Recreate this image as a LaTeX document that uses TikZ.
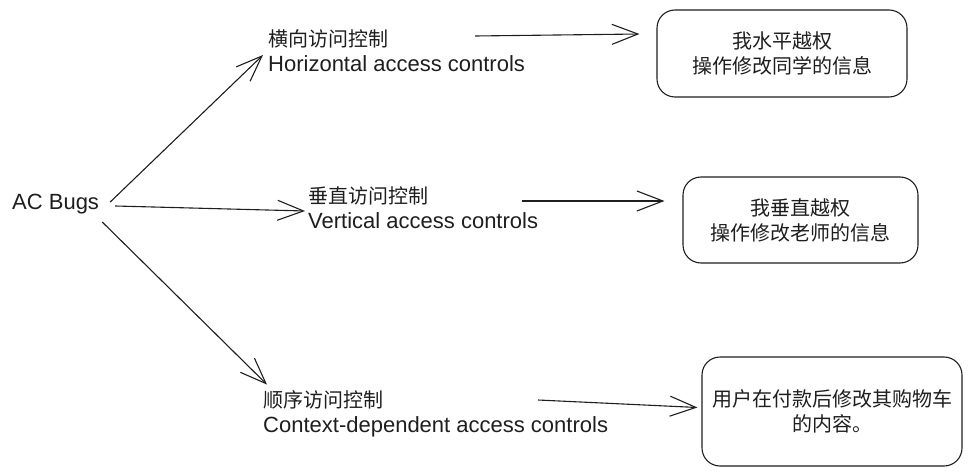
\documentclass[tikz,border=0pt]{standalone}
\usepackage{fontspec}
\setmainfont{Noto Sans CJK SC}
\newfontfamily\hand[Scale=1.1]{Liberation Sans}
\usetikzlibrary{arrows.meta,calc}
\definecolor{ink}{HTML}{1E1E1E}

\begin{document}
\begin{tikzpicture}
[
    x=1pt, y=-1pt,
    every node/.style={text=ink, font=\fontsize{20}{25}\selectfont},
    branch/.style={align=left, inner sep=0pt, anchor=west},
    box/.style={draw=ink, line width=1.1pt, rounded corners=18pt, align=center},
    arr/.style={draw=ink, line width=1.1pt, -{Straight Barb[length=26pt,width=20pt]}},
]
\useasboundingbox (0,0) rectangle (971,476);
\node [inner sep=0pt, anchor=west] (bugs) at (12,204) {\hand AC Bugs};
\node [branch] (horiz) at (268,51) {横向访问控制\\{\hand Horizontal access controls}};
\node [branch] (vert) at (308,208) {垂直访问控制\\{\hand Vertical access controls}};
\node [branch] (ctx) at (263,414) {顺序访问控制\\{\hand Context-dependent access controls}};
\node [box, minimum width=250pt, minimum height=87pt] (hbox) at (782,53.5)
{我水平越权\\操作修改同学的信息};
\node [box, minimum width=235pt, minimum height=86pt] (vbox) at (800.5,220)
{我垂直越权\\操作修改老师的信息};
\node [box, minimum width=260pt, minimum height=109pt] (cbox) at (832,411.5)
{用户在付款后修改其购物车\\的内容。};
\coordinate (hstart) at (475,36);
\coordinate (vstart) at (522,201);
\coordinate (cstart) at (538,400);
\draw [arr] ([shift={(11,-2)}]bugs.east) -- ([shift={(-5,4)}]horiz.west);
\draw [arr] ([shift={(16,2)}]bugs.east) -- ([shift={(-3,3)}]vert.west);
\draw [arr] ([shift={(3,18)}]bugs.east) -- ([shift={(4,-6)}]ctx.north west);
\draw [arr] (hstart) -- ($(hbox.west |- hstart)+(-17,-2)$);
\draw [arr] (vstart) -- ($(vbox.west |- vstart)+(-18,0)$);
\draw [arr] (cstart) -- ([shift={(-4,-4)}]cbox.west);
\end{tikzpicture}
\end{document}
